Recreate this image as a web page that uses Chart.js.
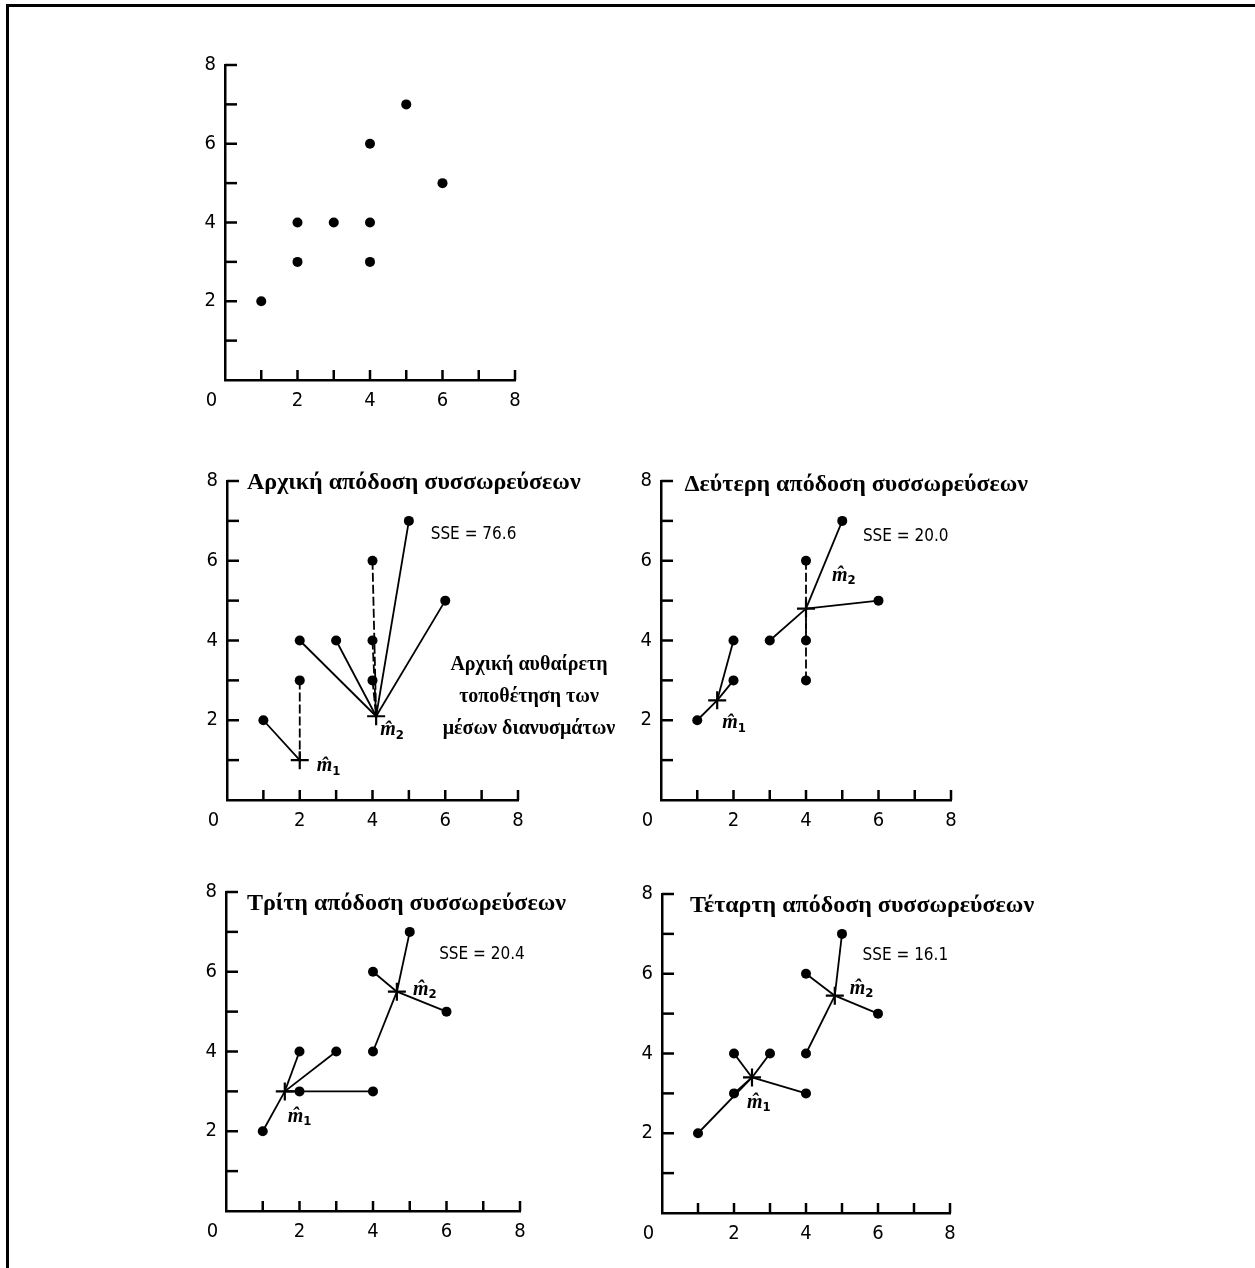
<!DOCTYPE html>
<html>
<head>
<meta charset="utf-8">
<script src="https://cdn.jsdelivr.net/npm/chart.js@4.4.0/dist/chart.umd.min.js"></script>
<style>
body { margin: 0; background: #fff; }
#frame { position: absolute; left: 6px; top: 4px; width: 1260px; height: 1270px; border-left: 3px solid #000; border-top: 3px solid #000; }
canvas { position: absolute; }
</style>
</head>
<body>
<div id="frame"></div>
<canvas id="c0"></canvas>
<canvas id="c1"></canvas>
<canvas id="c2"></canvas>
<canvas id="c3"></canvas>
<canvas id="c4"></canvas>
<script>
// tick labels (ticks at every integer, labels only on even ones)
var xTickLabels = ['0\u2003\u2002', '', '2', '', '4', '', '6', '', '8'];
var yTickLabels = ['', '', '2', '', '4', '', '6', '', '8'];

// the nine data points
var pointsX = [1, 2, 2, 3, 4, 4, 4, 5, 6];
var pointsY = [2, 3, 4, 4, 3, 4, 6, 7, 5];

// cluster of each point (0 = m1, 1 = m2), one array per step
var assign1 = [0, 0, 1, 1, 1, 1, 1, 1, 1];
var assign2 = [0, 0, 0, 1, 1, 1, 1, 1, 1];
var assign3 = [0, 0, 0, 0, 0, 1, 1, 1, 1];
var assign4 = [0, 0, 0, 0, 0, 1, 1, 1, 1];

// centroid positions per step
var m1X = [2, 1.55, 1.6, 2.5];
var m1Y = [1, 2.5, 3.0, 3.4];
var m2X = [4.1, 4.0, 4.65, 4.8];
var m2Y = [2.1, 4.8, 5.5, 5.45];

var titles = ['Αρχική απόδοση συσσωρεύσεων', 'Δεύτερη απόδοση συσσωρεύσεων', 'Τρίτη απόδοση συσσωρεύσεων', 'Τέταρτη απόδοση συσσωρεύσεων'];
var sseLabels = ['SSE = 76.6', 'SSE = 20.0', 'SSE = 20.4', 'SSE = 16.1'];
var noteLines = ['Αρχική αυθαίρετη', 'τοποθέτηση των', 'μέσων διανυσμάτων'];

// layout of each panel: chart area left/top/width/height in page pixels
var panels = [
  { L: 225, T: 59, W: 290, H: 321 },
  { L: 227, T: 475, W: 291, H: 325, step: 0, titleX: 0.55, titleY: 7.8, sseX: 5.6, sseY: 6.65, m1Off: [17, 6], m2Off: [4, 14], note: true },
  { L: 661, T: 475, W: 290, H: 325, step: 1, titleX: 0.65, titleY: 7.76, sseX: 5.57, sseY: 6.6, m1Off: [5, 23], m2Off: [26, -33] },
  { L: 226, T: 886, W: 294, H: 325, step: 2, titleX: 0.57, titleY: 7.54, sseX: 5.8, sseY: 6.42, m1Off: [3, 25], m2Off: [16, -2] },
  { L: 662, T: 888, W: 288, H: 325, step: 3, titleX: 0.78, titleY: 7.56, sseX: 5.57, sseY: 6.45, m1Off: [-5, 25], m2Off: [15, -7] }
];
var assigns = [assign1, assign2, assign3, assign4];

var PAD_L = 45, PAD_T = 15, PAD_R = 130, PAD_B = 40;
var NARROW = "'Liberation Sans Narrow', 'DejaVu Sans Condensed', Roboto, sans-serif";

// inward tick marks
var inwardTicks = {
  id: 'inwardTicks',
  afterDraw: function (chart) {
    var ctx = chart.ctx, a = chart.chartArea;
    var xs = chart.scales.x, ys = chart.scales.y;
    ctx.save();
    ctx.strokeStyle = '#000';
    ctx.lineWidth = 2.5;
    xs.ticks.forEach(function (t) {
      if (t.value === 0) return;
      var px = xs.getPixelForValue(t.value);
      ctx.beginPath(); ctx.moveTo(px, a.bottom); ctx.lineTo(px, a.bottom - 10); ctx.stroke();
    });
    ys.ticks.forEach(function (t) {
      if (t.value === 0) return;
      var py = ys.getPixelForValue(t.value);
      ctx.beginPath(); ctx.moveTo(a.left, py); ctx.lineTo(a.left + 12, py); ctx.stroke();
    });
    ctx.restore();
  }
};

function mLabel(ctx, x, y, sub) {
  ctx.font = 'italic bold 20px "Liberation Serif"';
  ctx.textAlign = 'left';
  ctx.textBaseline = 'middle';
  ctx.fillText('m\u0302', x, y);
  var w = ctx.measureText('m').width;
  ctx.font = 'bold 13px ' + NARROW;
  ctx.fillText(sub, x + w, y + 5);
}

function textPlugin(p) {
  return {
    id: 'panelText',
    afterDraw: function (chart) {
      if (p.step === undefined) return;
      var ctx = chart.ctx, xs = chart.scales.x, ys = chart.scales.y;
      var s = p.step;
      ctx.save();
      ctx.fillStyle = '#000';
      ctx.textAlign = 'left';
      ctx.textBaseline = 'alphabetic';
      ctx.font = 'bold 24px "Liberation Serif"';
      ctx.fillText(titles[s], xs.getPixelForValue(p.titleX), ys.getPixelForValue(p.titleY));
      ctx.textBaseline = 'middle';
      ctx.font = '17px ' + NARROW;
      ctx.fillText(sseLabels[s], xs.getPixelForValue(p.sseX), ys.getPixelForValue(p.sseY));
      var c1x = xs.getPixelForValue(m1X[s]), c1y = ys.getPixelForValue(m1Y[s]);
      var c2x = xs.getPixelForValue(m2X[s]), c2y = ys.getPixelForValue(m2Y[s]);
      mLabel(ctx, c1x + p.m1Off[0], c1y + p.m1Off[1], '1');
      mLabel(ctx, c2x + p.m2Off[0], c2y + p.m2Off[1], '2');
      if (p.note) {
        ctx.font = 'bold 20px "Liberation Serif"';
        ctx.textAlign = 'center';
        ctx.textBaseline = 'middle';
        for (var i = 0; i < noteLines.length; i++) {
          ctx.fillText(noteLines[i], chart.chartArea.right + 11, chart.chartArea.top + 184 + i * 32);
        }
      }
      ctx.restore();
    }
  };
}

function buildDatasets(p) {
  var ds = [];
  if (p.step !== undefined) {
    var s = p.step, asg = assigns[s];
    for (var i = 0; i < pointsX.length; i++) {
      var cx = asg[i] === 0 ? m1X[s] : m2X[s];
      var cy = asg[i] === 0 ? m1Y[s] : m2Y[s];
      var vertical = Math.abs(cx - pointsX[i]) < 0.15;
      ds.push({
        data: [{ x: pointsX[i], y: pointsY[i] }, { x: cx, y: cy }],
        showLine: true,
        pointRadius: 0,
        borderColor: '#000',
        borderWidth: 1.8,
        borderDash: vertical ? [9, 3] : []
      });
    }
    ds.push({
      data: [{ x: m1X[s], y: m1Y[s] }, { x: m2X[s], y: m2Y[s] }],
      pointStyle: 'cross',
      pointRadius: 9,
      borderColor: '#000',
      borderWidth: 2.2
    });
  }
  ds.push({
    data: pointsX.map(function (x, i) { return { x: x, y: pointsY[i] }; }),
    pointRadius: 5,
    backgroundColor: '#000',
    borderColor: '#000',
    borderWidth: 0
  });
  return ds;
}

panels.forEach(function (p, k) {
  var cv = document.getElementById('c' + k);
  var w = PAD_L + p.W + PAD_R, h = PAD_T + p.H + PAD_B;
  cv.width = w; cv.height = h;
  cv.style.left = (p.L - PAD_L) + 'px';
  cv.style.top = (p.T - PAD_T) + 'px';
  cv.style.width = w + 'px';
  cv.style.height = h + 'px';

  new Chart(cv.getContext('2d'), {
    type: 'scatter',
    data: { datasets: buildDatasets(p) },
    options: {
      responsive: false,
      animation: false,
      layout: { padding: { top: PAD_T, right: PAD_R, left: 0, bottom: 0 } },
      plugins: { legend: { display: false }, tooltip: { enabled: false } },
      scales: {
        x: {
          type: 'linear', min: 0, max: 8,
          afterFit: function (sc) { sc.height = PAD_B; },
          grid: { display: false, drawTicks: false },
          border: { display: true, color: '#000', width: 2.5 },
          ticks: {
            stepSize: 1, autoSkip: false, maxRotation: 0, padding: 9,
            color: '#000', font: { family: NARROW, size: 20 },
            callback: function (v, i) { return xTickLabels[i]; }
          }
        },
        y: {
          type: 'linear', min: 0, max: 8,
          afterFit: function (sc) { sc.width = PAD_L; },
          grid: { display: false, drawTicks: false },
          border: { display: true, color: '#000', width: 2.5 },
          ticks: {
            stepSize: 1, autoSkip: false, padding: 9,
            color: '#000', font: { family: NARROW, size: 20 },
            callback: function (v, i) { return yTickLabels[i]; }
          }
        }
      }
    },
    plugins: [inwardTicks, textPlugin(p)]
  });
});
</script>
</body>
</html>
